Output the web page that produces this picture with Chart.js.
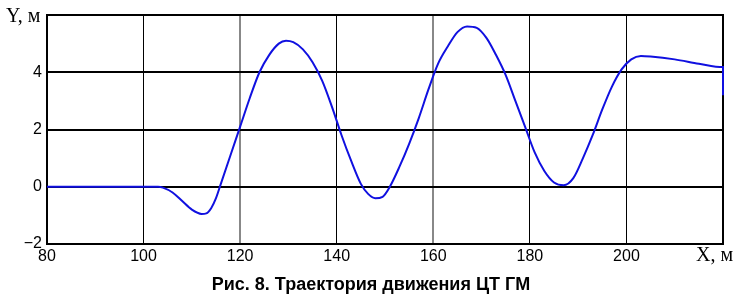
<!DOCTYPE html>
<html>
<head>
<meta charset="utf-8">
<script src="https://cdn.jsdelivr.net/npm/chart.js@4/dist/chart.umd.min.js"></script>
<style>
  html, body { margin: 0; padding: 0; background: #fff; }
  #wrap { width: 740px; height: 296px; position: relative; }
</style>
</head>
<body>
<div id="wrap"><canvas id="c"></canvas></div>
<script>
// trajectory (X, m -> Y, m)
const xs = [80, 90, 100, 103, 104, 106, 108, 110, 112, 113, 114, 115, 116, 118, 120, 122, 124, 126, 128, 129.5,
  131, 133, 135, 137, 139, 141, 143, 145, 146.5, 148, 149.5, 151, 153, 155, 157, 159, 161, 163, 165, 167,
  169, 171, 173, 175, 177, 179, 181, 183, 185, 187, 189, 191, 193, 195, 197, 199, 201, 203, 205, 210,
  215, 220, 220];
const ys = [0, 0, 0, 0, -0.03, -0.2, -0.5, -0.8, -0.95, -0.93, -0.75, -0.4, 0.1, 1.1, 2.1, 3.1, 4.0, 4.6, 5.0, 5.1,
  5.05, 4.8, 4.35, 3.7, 2.8, 1.8, 0.9, 0.1, -0.25, -0.4, -0.35, 0.0, 0.7, 1.5, 2.4, 3.4, 4.3, 4.9, 5.4, 5.6,
  5.55, 5.2, 4.6, 3.9, 3.0, 2.1, 1.2, 0.55, 0.15, 0.05, 0.3, 1.0, 1.8, 2.7, 3.5, 4.1, 4.45, 4.57, 4.55, 4.45,
  4.3, 4.18, 3.2];
const xTicks = [80, 100, 120, 140, 160, 180, 200];
const yTicks = [-2, 0, 2, 4];
const grayX = [120, 160];
const caption = "Рис. 8. Траектория движения ЦТ ГМ";

const points = xs.map((x, i) => ({ x, y: ys[i] }));

const extras = {
  id: "extras",
  beforeDatasetsDraw(chart) {
    // frame goes under the curve, the curve's last drop sits on the right edge
    const { ctx, chartArea: a } = chart;
    ctx.save();
    ctx.strokeStyle = "#000";
    ctx.lineWidth = 2;
    ctx.strokeRect(a.left, a.top, a.right - a.left, a.bottom - a.top);
    ctx.restore();
  },
  afterDraw(chart) {
    const { ctx, chartArea: a } = chart;
    ctx.save();
    ctx.fillStyle = "#000";
    ctx.font = "20px 'Liberation Serif'";
    ctx.textBaseline = "middle";
    ctx.textAlign = "left";
    ctx.fillText("Y, м", 6, a.top + 2);
    ctx.fillText("X, м", 696, a.bottom + 12);
    ctx.font = "bold 18px 'Liberation Sans'";
    ctx.textAlign = "center";
    ctx.fillText(caption, 371, 285);
    ctx.restore();
  }
};

new Chart(document.getElementById("c"), {
  type: "line",
  data: {
    datasets: [{
      data: points,
      borderColor: "#1010e0",
      borderWidth: 2,
      pointRadius: 0,
      cubicInterpolationMode: "monotone",
      fill: false,
      clip: 2,
    }],
  },
  options: {
    responsive: true,
    maintainAspectRatio: false,
    animation: false,
    layout: { padding: { left: 0, top: 15, right: 17, bottom: 22 } },
    plugins: { legend: { display: false }, tooltip: { enabled: false } },
    scales: {
      x: {
        type: "linear",
        min: 80,
        max: 220,
        afterFit: (s) => { s.height = 30; },
        afterBuildTicks: (s) => { s.ticks = xTicks.concat([220]).map((v) => ({ value: v })); },
        ticks: {
          color: "#000",
          font: { family: "'Liberation Sans'", size: 16 },
          padding: 3,
          maxRotation: 0,
          callback: (v) => (xTicks.includes(v) ? String(v) : ""),
        },
        grid: {
          drawTicks: false,
          color: (c) => (grayX.includes(c.tick && c.tick.value) ? "#888" : "#000"),
          lineWidth: (c) => (grayX.includes(c.tick && c.tick.value) ? 2 : 1),
        },
        border: { display: false },
      },
      y: {
        min: -2,
        max: 6,
        afterFit: (s) => { s.width = 47; },
        afterBuildTicks: (s) => { s.ticks = yTicks.concat([6]).map((v) => ({ value: v })); },
        ticks: {
          color: "#000",
          font: { family: "'Liberation Sans'", size: 16 },
          padding: 5,
          callback: (v) => (yTicks.includes(v) ? String(v).replace("-", "\u2212") : ""),
        },
        grid: { drawTicks: false, color: "#000", lineWidth: 2 },
        border: { display: false },
      },
    },
  },
  plugins: [extras],
});
</script>
</body>
</html>
